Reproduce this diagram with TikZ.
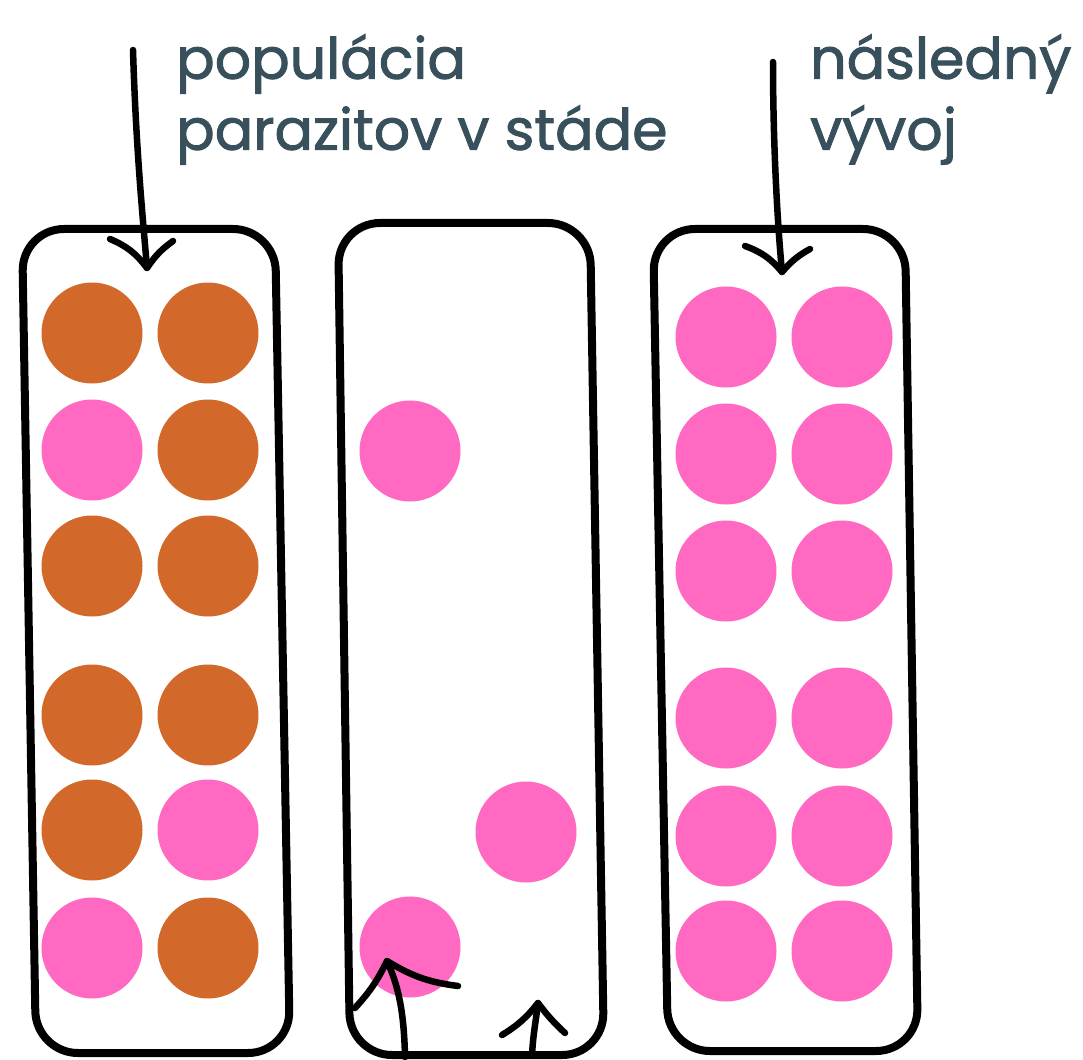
\documentclass[tikz,border=0pt]{standalone}
\usepackage{fontspec}
\setmainfont{Poppins}
\newfontfamily\lblfont{Poppins}[FakeBold=1.6]
\definecolor{ora}{HTML}{D2692B}
\definecolor{pnk}{HTML}{FF69C2}
\definecolor{txt}{HTML}{37505C}
\begin{document}
\begin{tikzpicture}[x=1pt,y=-1pt,
 dot/.style={circle,minimum size=101pt,inner sep=0pt},
 odot/.style={dot,fill=ora},
 pdot/.style={dot,fill=pnk},
 frame/.style={line width=8pt,rounded corners=42pt},
 arr/.style={line width=6.5pt,line cap=round,line join=round},
 lbl/.style={text=txt,font=\lblfont\fontsize{57}{71}\selectfont,align=left,anchor=north west,inner sep=0pt}]
\useasboundingbox (0,0) rectangle (1083,1059);
% frames
\draw[frame] (22,229) -- (275,229) -- (290,1053) -- (36,1053) -- cycle;
\draw[frame] (338,223) -- (590,223) -- (604,1055) -- (350,1055) -- cycle;
\draw[frame] (653,229) -- (905,229) -- (918,1051) -- (668,1051) -- cycle;
% left column dots
\node[odot] (a1) at (92,333) {};
\node[odot] (a2) at (208,333) {};
\node[pdot] (a3) at (92,450) {};
\node[odot] (a4) at (208,450) {};
\node[odot] (a5) at (92,566) {};
\node[odot] (a6) at (208,566) {};
\node[odot] (a7) at (92,715) {};
\node[odot] (a8) at (208,715) {};
\node[odot] (a9) at (92,830) {};
\node[pdot] (a10) at (208,830) {};
\node[pdot] (a11) at (92,948) {};
\node[odot] (a12) at (208,948) {};
% middle dots
\node[pdot] (b1) at (410,451) {};
\node[pdot] (b2) at (526,832) {};
\node[pdot] (b3) at (410,947) {};
% right column dots
\node[pdot] (c1) at (726,337) {};
\node[pdot] (c2) at (842,337) {};
\node[pdot] (c3) at (726,454) {};
\node[pdot] (c4) at (842,454) {};
\node[pdot] (c5) at (726,571) {};
\node[pdot] (c6) at (842,571) {};
\node[pdot] (c7) at (726,718) {};
\node[pdot] (c8) at (842,718) {};
\node[pdot] (c9) at (726,836) {};
\node[pdot] (c10) at (842,836) {};
\node[pdot] (c11) at (726,951) {};
\node[pdot] (c12) at (842,951) {};
% labels
\node[lbl] (t1) at (176,34) {populácia\\parazitov v stáde};
\node[lbl] (t2) at (810,34) {následný\\vývoj};
% arrow 1
\coordinate (p1) at (133,50);
\coordinate (h1) at (147,268);
\coordinate (l1) at (110,239);
\coordinate (r1) at (173,241);
\draw[arr] (p1) .. controls (136,150) and (143,220) .. (h1);
\draw[arr] (l1) to[bend left=15] (h1) to[bend left=10] (r1);
% arrow 2
\coordinate (p2) at (773,62);
\coordinate (h2) at (782,272);
\coordinate (l2) at (745,246);
\coordinate (r2) at (810,249);
\draw[arr] (p2) .. controls (773,150) and (778,230) .. (h2);
\draw[arr] (l2) to[bend left=15] (h2) to[bend left=10] (r2);
% bottom arrow A
\coordinate (p3) at (405,1057);
\coordinate (h3) at (387,961);
\coordinate (l3) at (355,1008);
\coordinate (r3) at (458,986);
\draw[arr] (p3) .. controls (404,1010) and (398,985) .. (h3);
\draw[arr] (l3) to[bend right=8] (h3) to[bend right=12] (r3);
% bottom arrow B
\coordinate (p4) at (532,1055);
\coordinate (h4) at (538,1003);
\coordinate (l4) at (502,1035);
\coordinate (r4) at (565,1033);
\draw[arr] (p4) .. controls (533,1035) and (536,1020) .. (h4);
\draw[arr] (l4) to[bend right=10] (h4) to[bend right=5] (r4);
\end{tikzpicture}
\end{document}
